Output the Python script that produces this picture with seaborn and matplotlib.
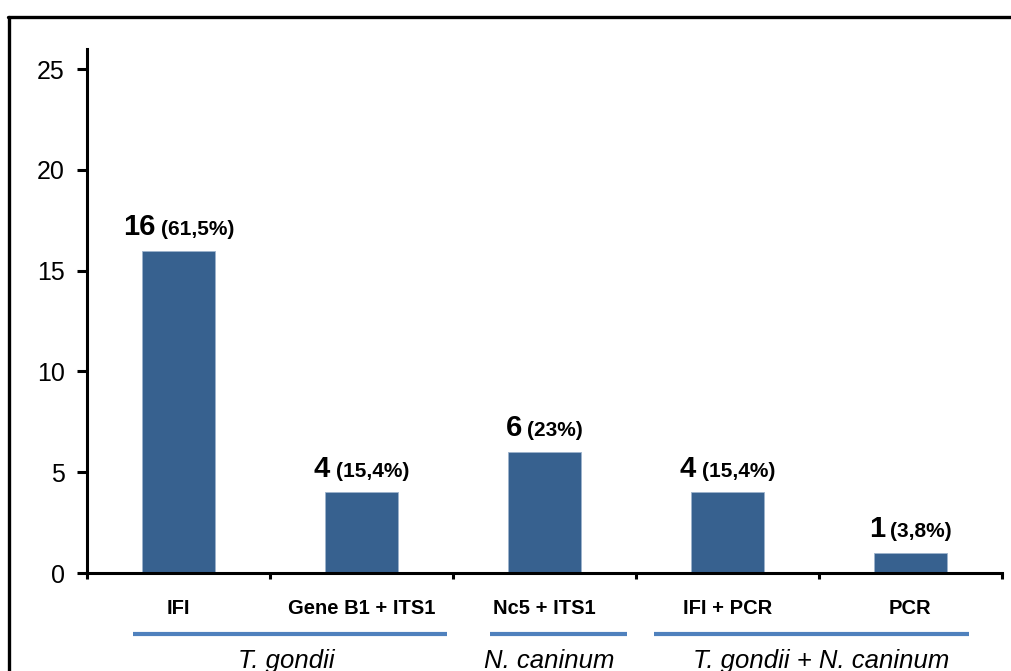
import matplotlib
matplotlib.use("Agg")
import matplotlib.pyplot as plt
import matplotlib.transforms as mtransforms
from matplotlib.lines import Line2D
from matplotlib.offsetbox import TextArea, HPacker, AnnotationBbox
import seaborn as sns
import pandas as pd

# Data
methods = ["IFI", "Gene B1 + ITS1", "Nc5 + ITS1", "IFI + PCR", "PCR"]
counts = [16, 4, 6, 4, 1]
percents = ["61,5%", "15,4%", "23%", "15,4%", "3,8%"]
groups = ["T. gondii", "N. caninum", "T. gondii + N. caninum"]
y_ticks = [0, 5, 10, 15, 20, 25]

sns.set_theme(style="white")
plt.rcParams["font.family"] = ["Liberation Sans", "DejaVu Sans"]
plt.rcParams["text.color"] = "black"
plt.rcParams["xtick.color"] = "black"
plt.rcParams["ytick.color"] = "black"
plt.rcParams["xtick.labelcolor"] = "black"
plt.rcParams["ytick.labelcolor"] = "black"

bar_color = "#37618F"
line_color = "#4F81BD"

fig = plt.figure(figsize=(10.12, 6.71), dpi=100)
ax = fig.add_axes([0.086, 0.146, 0.904, 0.781])

df = pd.DataFrame({"method": methods, "count": counts})
sns.barplot(data=df, x="method", y="count", color=bar_color, width=0.4,
            saturation=1, edgecolor="#9DB3CC", linewidth=0.6, ax=ax)

ax.set_ylim(0, 26)
ax.set_xlim(-0.5, len(methods) - 0.5)
ax.set_yticks(y_ticks)
ax.set_xlabel("")
ax.set_ylabel("")

for side in ["top", "right"]:
    ax.spines[side].set_visible(False)
for side in ["left", "bottom"]:
    ax.spines[side].set_color("black")
    ax.spines[side].set_linewidth(2.2)

ax.tick_params(axis="y", direction="out", length=7, width=2.2, color="black",
               labelsize=18, pad=9, left=True, labelcolor="black")
ax.set_xticks(range(len(methods)))
ax.set_xticklabels(methods, fontsize=14.5, fontweight="bold", color="black")
ax.tick_params(axis="x", length=0, pad=19)

# Boundary ticks between categories
xtr = mtransforms.blended_transform_factory(ax.transData, ax.transAxes)
for b in [i - 0.5 for i in range(len(methods) + 1)]:
    ax.add_line(Line2D([b, b], [0, -0.011], transform=xtr, color="black",
                       lw=2.2, clip_on=False, solid_capstyle="butt"))

# Value labels above bars: count in large bold, share in smaller bold
for i, (c, p) in enumerate(zip(counts, percents)):
    big = TextArea(f"{c}", textprops=dict(fontsize=21, fontweight="bold",
                                          color="black"))
    small = TextArea(f"({p})", textprops=dict(fontsize=15, fontweight="bold",
                                              color="black"))
    pack = HPacker(children=[big, small], align="baseline", pad=0, sep=4)
    ab = AnnotationBbox(pack, (i, c), xybox=(0, 7), xycoords="data",
                        boxcoords="offset points", box_alignment=(0.5, 0),
                        frameon=False, pad=0, annotation_clip=False)
    ax.add_artist(ab)

# Group brackets below category labels
spans = [(-0.25, 1.47), (1.70, 2.45), (2.60, 4.32)]
label_x = [0.587, 2.025, 3.511]
for (x0, x1), lx, g in zip(spans, label_x, groups):
    ax.add_line(Line2D([x0, x1], [-0.116, -0.116], transform=xtr,
                       color=line_color, lw=3, clip_on=False,
                       solid_capstyle="butt"))
    ax.text(lx, -0.181, g, transform=xtr, ha="center",
            va="baseline", fontsize=18.5, fontstyle="italic", color="black")

# Outer frame lines
fig.add_artist(Line2D([8 / 1012, 1.0], [1 - 17 / 671, 1 - 17 / 671],
                      transform=fig.transFigure, color="black", lw=2.4))
fig.add_artist(Line2D([9 / 1012, 9 / 1012], [0, 1 - 17 / 671],
                      transform=fig.transFigure, color="black", lw=2.4))

fig.savefig("out.png", dpi=100, facecolor="white")
